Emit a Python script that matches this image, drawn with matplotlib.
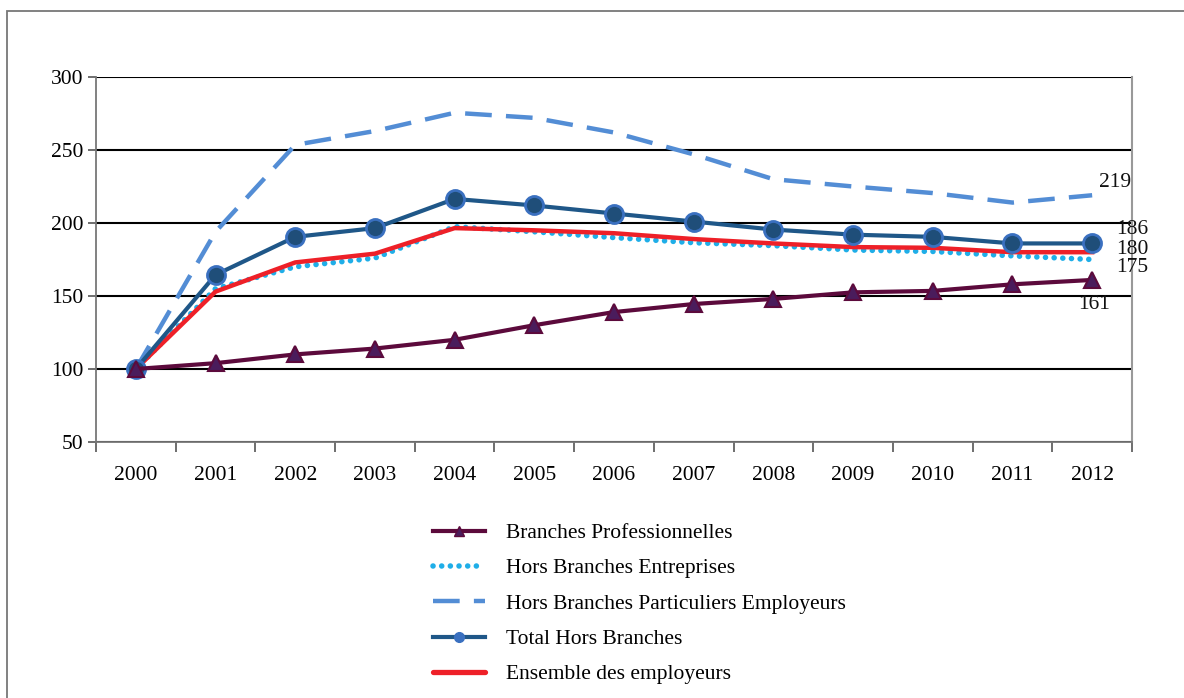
import matplotlib
matplotlib.use("Agg")
import matplotlib.pyplot as plt
from matplotlib.lines import Line2D
from matplotlib.patches import Rectangle
import numpy as np

plt.rcParams['font.family'] = ['Liberation Serif', 'DejaVu Serif']

years = ["2000", "2001", "2002", "2003", "2004", "2005", "2006",
         "2007", "2008", "2009", "2010", "2011", "2012"]
branches_pro = [100, 104, 110, 114, 120, 130, 139, 144.5, 148, 152.5, 153.5, 158, 161]
hb_entreprises = [100, 155, 170, 176, 197.5, 194, 190, 186.5, 184.5, 181.5, 180.5, 177.5, 175]
hb_particuliers = [100, 194, 253.5, 263, 275.5, 272, 262, 247, 230, 225, 220.5, 214, 219]
total_hb = [100, 164.5, 190.5, 196.5, 216.5, 212, 206.5, 201, 195.5, 192, 190.5, 186, 186]
ensemble = [100, 153, 173, 179, 196.5, 195, 193, 189, 186, 183.5, 183, 180, 180]

labels = ["Branches Professionnelles", "Hors Branches Entreprises",
          "Hors Branches Particuliers Employeurs", "Total Hors Branches",
          "Ensemble des employeurs"]

c_bp = "#5C0A3C"
c_bp_face = "#4A1C5C"
c_ent = "#1FAEE8"
c_part = "#538DD5"
c_tot = "#1F5788"
c_tot_face = "#1F4E79"
c_tot_edge = "#3A70C0"
c_ens = "#EE2028"

FS = 15.5

fig = plt.figure(figsize=(11.84, 6.98), dpi=100)
ax = fig.add_axes([96/1184, 1-442/698, (1132-96)/1184, (442-77)/698])

x = np.arange(len(years))

ax.plot(x, hb_particuliers, color=c_part, lw=3.2, dashes=(6, 3.2), zorder=3)
ax.plot(x, hb_entreprises, color=c_ent, lw=4.0, linestyle=(0, (0.01, 1.55)),
        dash_capstyle='round', zorder=3)
ax.plot(x, ensemble, color=c_ens, lw=3.2, zorder=4)
ax.plot(x, total_hb, color=c_tot, lw=3.0, marker='o', markersize=13,
        markerfacecolor=c_tot_face, markeredgecolor=c_tot_edge, markeredgewidth=2, zorder=5)
ax.plot(x, branches_pro, color=c_bp, lw=3.0, marker='^', markersize=12,
        markerfacecolor=c_bp_face, markeredgecolor=c_bp, markeredgewidth=1.5, zorder=5)

# end labels
last = len(years) - 1
for series, dx, dy in [(hb_particuliers, 5, 9), (total_hb, 17, 10), (ensemble, 17, 2),
                       (hb_entreprises, 17, -6), (branches_pro, -10, -18)]:
    ax.annotate(f"{series[last]:.0f}", xy=(x[last], series[last]), xytext=(dx, dy),
                textcoords='offset points', fontsize=FS, va='center', ha='left',
                color='#111111', zorder=6)

ax.set_xlim(-0.5, len(years) - 0.5)
ax.set_ylim(50, 300)
ax.set_yticks([50, 100, 150, 200, 250, 300])
ax.set_xticks(np.arange(-0.5, len(years), 1.0))
ax.set_xticklabels([])
ax.set_xticks(x, minor=True)
ax.set_xticklabels(years, minor=True)
ax.tick_params(axis='x', which='major', length=7, width=1.2, color='#555555', direction='out')
ax.tick_params(axis='x', which='minor', length=0, pad=17, labelsize=FS)
ax.tick_params(axis='y', length=6, width=1.2, color='#555555', labelsize=FS, pad=3)

ax.grid(axis='y', color='black', lw=1.5, zorder=1)
ax.set_axisbelow(True)
ax.spines['top'].set_visible(False)
ax.spines['left'].set_color('#777777')
ax.spines['bottom'].set_color('#777777')
ax.spines['right'].set_color('#999999')
ax.spines['left'].set_linewidth(1.3)
ax.spines['bottom'].set_linewidth(1.3)
ax.spines['right'].set_linewidth(1.5)

# legend
handles = [
    Line2D([], [], color=c_bp, lw=3.0, marker='^', markersize=7,
           markerfacecolor=c_bp_face, markeredgecolor=c_bp),
    Line2D([], [], color=c_ent, lw=4.0, linestyle=(0, (0.01, 1.55)), dash_capstyle='round'),
    Line2D([], [], color=c_part, lw=3.2, dashes=(6, 3.2)),
    Line2D([], [], color=c_tot, lw=3.0, marker='o', markersize=7,
           markerfacecolor=c_tot_edge, markeredgecolor=c_tot_edge),
    Line2D([], [], color=c_ens, lw=3.8, solid_capstyle='round'),
]
fig.legend(handles, labels, loc='upper left', bbox_to_anchor=(433/1184, 1-523/698),
           frameon=False, fontsize=FS, handlelength=2.4, handletextpad=1.0,
           labelspacing=0.71, borderaxespad=0, borderpad=0)

# outer frame
fig.patches.append(Rectangle((7/1184, -0.1), 1.2, 1.1 - 11/698, transform=fig.transFigure,
                             fill=False, edgecolor='#777777', lw=1.3, clip_on=False))

fig.savefig("out.png", dpi=100)
